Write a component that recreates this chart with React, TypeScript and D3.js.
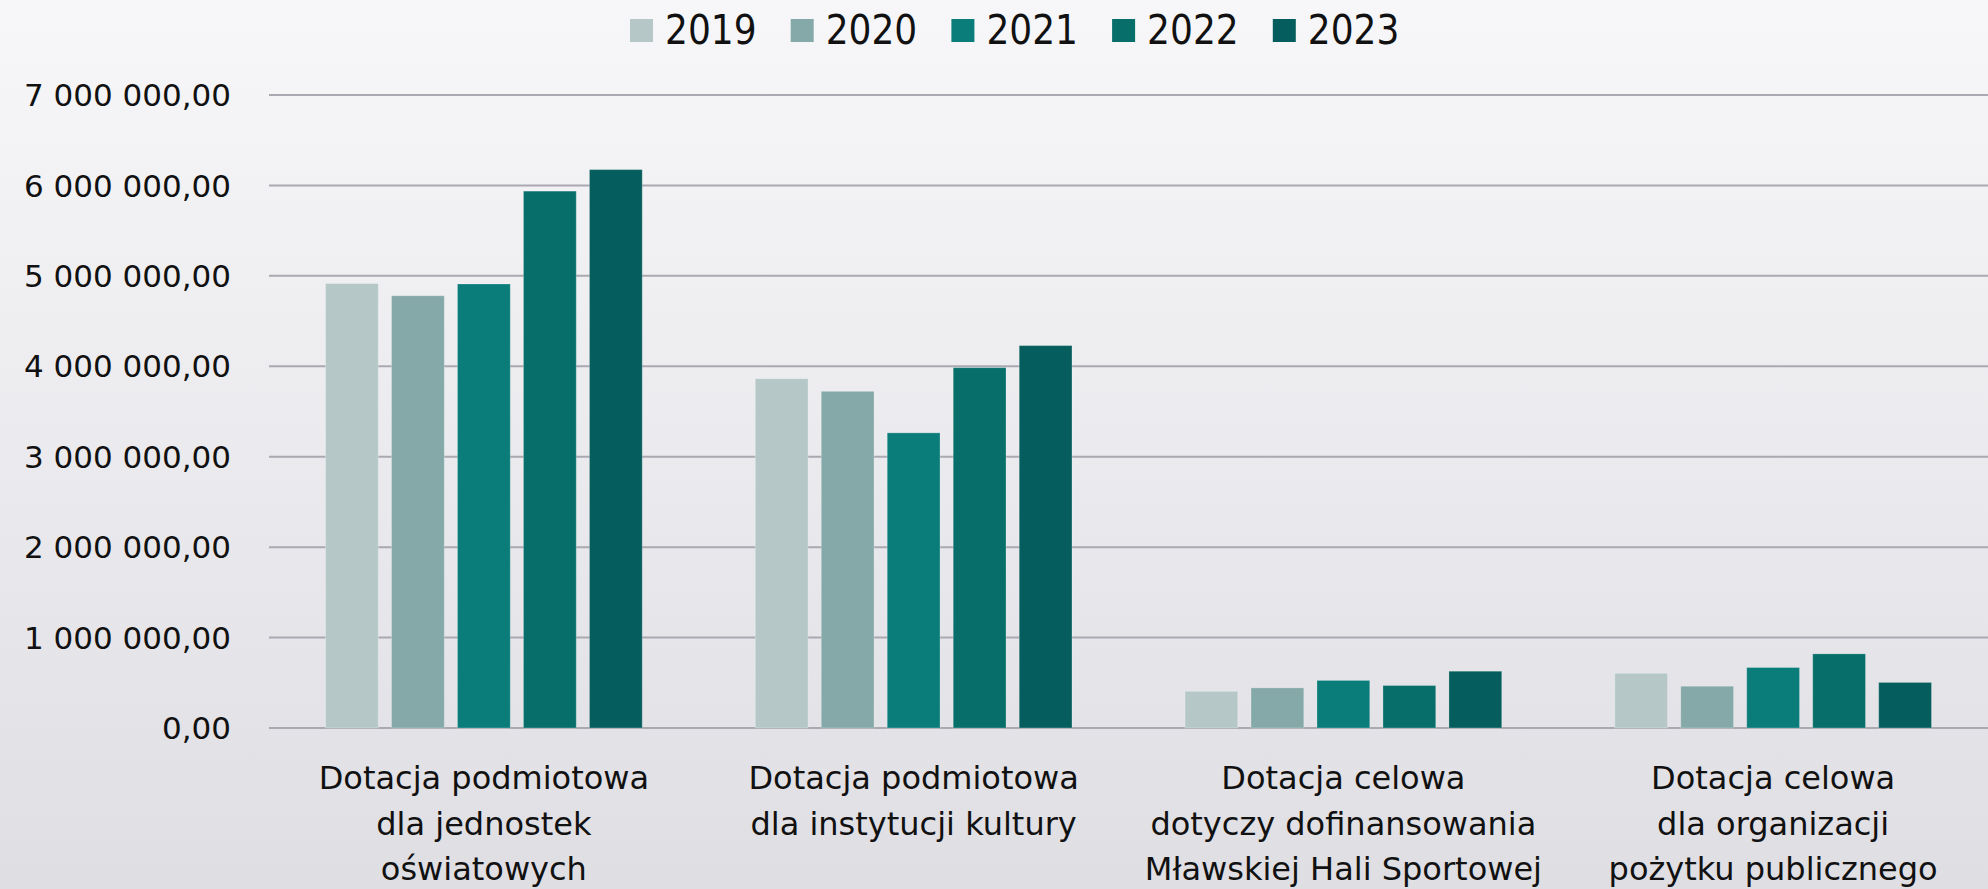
import { useEffect, useRef } from "react";
import * as d3 from "d3";

const categories = [
  ["Dotacja podmiotowa", "dla jednostek", "oświatowych"],
  ["Dotacja podmiotowa", "dla instytucji kultury"],
  ["Dotacja celowa", "dotyczy dofinansowania", "Mławskiej Hali Sportowej"],
  ["Dotacja celowa", "dla organizacji", "pożytku publicznego"],
];
const years = ["2019", "2020", "2021", "2022", "2023"];
const v2019 = [4915000, 3863000, 406000, 605000];
const v2020 = [4780000, 3723000, 444000, 462000];
const v2021 = [4910000, 3264000, 526000, 669000];
const v2022 = [5937000, 3985000, 470000, 820000];
const v2023 = [6175000, 4229000, 628000, 504000];
const series = [v2019, v2020, v2021, v2022, v2023];
const colors = ["#B5C8C7", "#85A8A8", "#0A7C7A", "#076E6A", "#055E5D"];
const yTicks = [0, 1e6, 2e6, 3e6, 4e6, 5e6, 6e6, 7e6];

const W = 1988, H = 889;
const M = { l: 269, r: 0, t: 95, b: 161 };
const COND = "'DejaVu Sans Condensed', 'DejaVu Sans', sans-serif";
const SANS = "'DejaVu Sans', Verdana, sans-serif";

const pl = d3.formatLocale({ decimal: ",", thousands: " ", grouping: [3], currency: ["", " zł"] });
const fmt = pl.format(",.2f");

export default function App() {
  const ref = useRef<SVGSVGElement>(null);

  useEffect(() => {
    document.body.style.margin = "0";
    const svg = d3.select(ref.current);
    svg.selectAll("*").remove();

    const x0 = d3.scaleBand<number>().domain(d3.range(categories.length)).range([M.l, W - M.r]).paddingInner(0.263).paddingOuter(0.1315);
    const x1 = d3.scaleBand<number>().domain(d3.range(years.length)).range([0, x0.bandwidth()]).paddingInner(0.2);
    const y = d3.scaleLinear().domain([0, 7e6]).range([H - M.b, M.t]);

    const defs = svg.append("defs");
    const g = defs.append("linearGradient").attr("id", "bg").attr("x1", 0).attr("y1", 0).attr("x2", 0).attr("y2", 1);
    g.append("stop").attr("offset", "0%").attr("stop-color", "#F7F7F9");
    g.append("stop").attr("offset", "100%").attr("stop-color", "#DFDEE3");
    svg.append("rect").attr("width", W).attr("height", H).attr("fill", "url(#bg)");

    // gridlines
    svg.append("g").selectAll("line").data(yTicks).join("line")
      .attr("x1", M.l).attr("x2", W - M.r)
      .attr("y1", d => y(d)).attr("y2", d => y(d))
      .attr("stroke", "#AAA8B1").attr("stroke-width", 2);

    // tick labels
    svg.append("g").selectAll("text").data(yTicks).join("text")
      .attr("x", 231).attr("y", d => y(d)).attr("dy", "0.36em")
      .attr("text-anchor", "end").attr("font-family", SANS).attr("font-size", 31).attr("fill", "#111")
      .text(d => fmt(d));

    // bars
    const groups = svg.append("g").selectAll("g").data(categories).join("g")
      .attr("transform", (_, i) => `translate(${x0(i)},0)`);
    groups.selectAll("rect").data((_, i) => series.map((s, k) => ({ k, v: s[i] }))).join("rect")
      .attr("x", d => x1(d.k)!).attr("width", x1.bandwidth())
      .attr("y", d => y(d.v)).attr("height", d => y(0) - y(d.v))
      .attr("fill", d => colors[d.k])
      .attr("stroke", "rgba(255,255,255,0.25)").attr("stroke-width", 1);

    // category labels
    const lab = svg.append("g").selectAll("text").data(categories).join("text")
      .attr("x", (_, i) => x0(i)! + x0.bandwidth() / 2)
      .attr("y", 789).attr("text-anchor", "middle")
      .attr("font-family", SANS).attr("font-size", 32).attr("fill", "#111");
    lab.selectAll("tspan").data(d => d).join("tspan")
      .attr("x", function () { return (this.parentNode as SVGTextElement).getAttribute("x"); })
      .attr("dy", (_, j) => (j ? 45.5 : 0))
      .text(d => d);

    // legend
    const leg = svg.append("g").selectAll("g").data(years).join("g")
      .attr("transform", (_, i) => `translate(${630 + i * 160.7},0)`);
    leg.append("rect").attr("x", 0).attr("y", 19).attr("width", 23).attr("height", 23)
      .attr("fill", (_, i) => colors[i]);
    leg.append("text").attr("x", 35).attr("y", 44)
      .attr("font-family", COND).attr("font-size", 40).attr("fill", "#111")
      .text(d => d);
  }, []);

  return <svg ref={ref} width={W} height={H} viewBox={`0 0 ${W} ${H}`} style={{ display: "block", position: "absolute", left: 0, top: 0 }} />;
}
